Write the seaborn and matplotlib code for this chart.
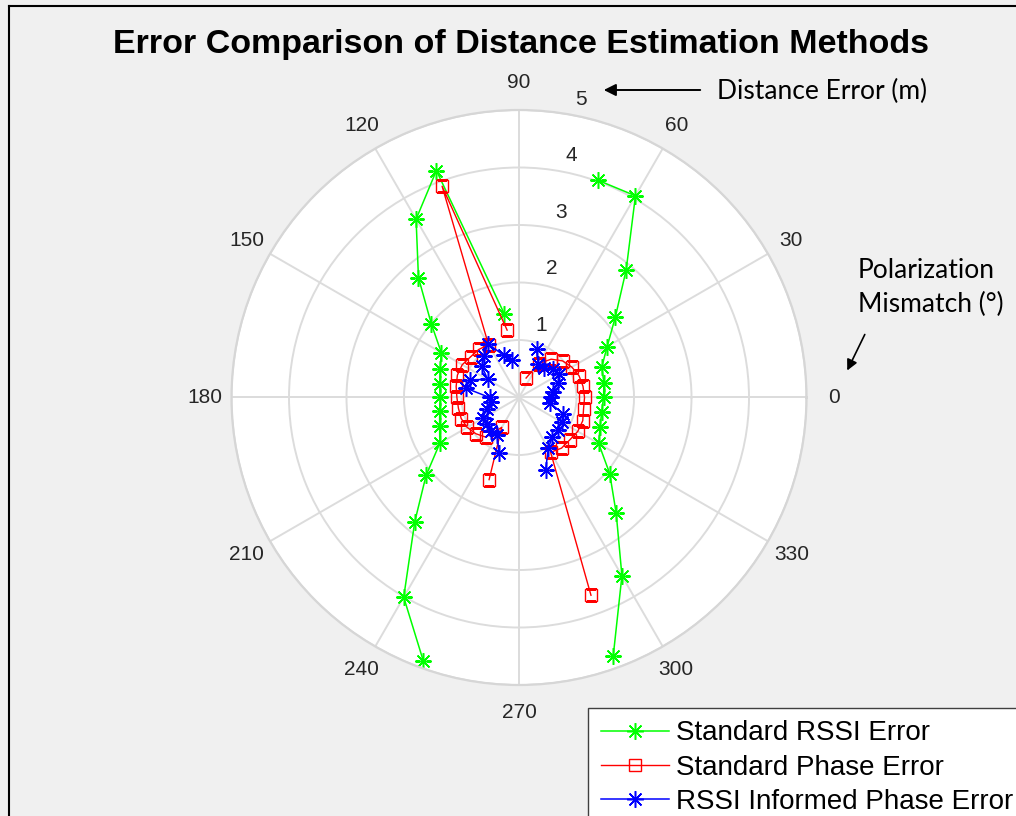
import numpy as np
import pandas as pd
import matplotlib
matplotlib.use("Agg")
import matplotlib.pyplot as plt
import seaborn as sns
from matplotlib.lines import Line2D
from matplotlib.transforms import ScaledTranslation

# ---------------- data ----------------
angles_left = [100, 110, 120, 130, 140, 150, 160, 170, 180, 190, 200, 210, 220, 230, 240, 250]
angles_right = [-70, -60, -50, -40, -30, -20, -10, 0, 10, 20, 30, 40, 50, 60, 70]

rssi_left = [1.48, 4.20, 3.58, 2.72, 1.99, 1.56, 1.46, 1.40, 1.37, 1.40, 1.47, 1.59, 2.11, 2.82, 4.01, 4.87]
rssi_right = [4.79, 3.58, 2.63, 2.06, 1.60, 1.50, 1.46, 1.47, 1.50, 1.53, 1.77, 2.19, 2.90, 4.05, 4.02]

phase_left = [1.19, 3.91, 1.06, 1.09, 1.10, 1.14, 1.14, 1.11, 1.08, 1.07, 1.07, 1.04, 0.98, 0.90, 0.60, 1.52]
phase_right = [3.66, 1.10, 1.15, 1.15, 1.18, 1.18, 1.14, 1.14, 1.13, 1.11, 1.06, 0.99, 0.87, 0.68, 0.36]

informed_left = [0.66, 0.78, 1.08, 0.95, 0.84, 0.63, 0.90, 0.94, 0.51, 0.50, 0.60, 0.73, 0.72, 0.76, 0.76, 1.02]
informed_right = [1.35, 1.02, 0.90, 0.88, 0.86, 0.82, 0.54, 0.55, 0.60, 0.73, 0.80, 0.77, 0.68, 0.67, 0.89]

series_names = ["Standard RSSI Error", "Standard Phase Error", "RSSI Informed Phase Error"]
theta_ticks = [0, 30, 60, 90, 120, 150, 180, 210, 240, 270, 300, 330]
r_ticks = [1, 2, 3, 4, 5]
title_text = "Error Comparison of Distance Estimation Methods"


def make_frame(left, right):
    d1 = pd.DataFrame({"theta": np.deg2rad(angles_left), "r": left, "seg": "left"})
    d2 = pd.DataFrame({"theta": np.deg2rad(angles_right), "r": right, "seg": "right"})
    return pd.concat([d1, d2], ignore_index=True)


frames = [make_frame(rssi_left, rssi_right),
          make_frame(phase_left, phase_right),
          make_frame(informed_left, informed_right)]

styles = [
    dict(color="#00ff00", marker=(8, 2, 0), markersize=12, markeredgecolor="#00ff00",
         markerfacecolor="none", markeredgewidth=1.1, linewidth=1.1),
    dict(color="#ff0000", marker="s", markersize=9, markeredgecolor="#ff0000",
         markerfacecolor="none", markeredgewidth=1.0, linewidth=1.0),
    dict(color="#0000ff", marker=(8, 2, 0), markersize=12, markeredgecolor="#0000ff",
         markerfacecolor="none", markeredgewidth=1.1, linewidth=1.1),
]

# ---------------- figure ----------------
W, H = 1016, 816
fig = plt.figure(figsize=(W / 100, H / 100), dpi=100, facecolor="#f0f0f0")

cx, cy, R = 519, 397.5, 287.5
ax = fig.add_axes([(cx - R) / W, (H - cy - R) / H, 2 * R / W, 2 * R / H], projection="polar")
ax.set_facecolor("white")

for df, st in zip(frames, styles):
    sns.lineplot(data=df, x="theta", y="r", units="seg", estimator=None, sort=False,
                 ax=ax, legend=False, **st)

ax.set_xlabel("")
ax.set_ylabel("")
ax.set_ylim(0, 5)
ax.set_yticks(r_ticks)
ax.set_yticklabels([])
ax.set_thetagrids(theta_ticks, labels=[str(t) for t in theta_ticks],
                  fontsize=15, color="#262626", family="Liberation Sans")
ax.tick_params(axis="x", pad=9)
ax.grid(True, color="#dcdcdc", linewidth=1.4)
ax.spines["polar"].set_color("#d6d6d6")
ax.spines["polar"].set_linewidth(1.6)

# radial tick labels (MATLAB style, near 80 degrees, slightly offset)
off = ScaledTranslation(9 / 72, 11 / 72, fig.dpi_scale_trans)
for rt in r_ticks:
    ax.text(np.deg2rad(80), rt, str(rt), transform=ax.transData + off,
            ha="center", va="center", fontsize=15, color="#262626", family="Liberation Sans")

# title
fig.text(521 / W, 1 - 45 / H, title_text, ha="center", va="center",
         fontsize=24.5, fontweight="bold", color="black", family="Liberation Sans")

# annotations
fig.text(717 / W, 1 - 91 / H, "Distance Error (m)", ha="left", va="center",
         fontsize=19, color="black", family="Lato")
ax.annotate("", xy=(601, H - 90), xycoords="figure pixels",
            xytext=(703, H - 90), textcoords="figure pixels",
            arrowprops=dict(arrowstyle="-|>", color="black", lw=1.4, mutation_scale=18))
fig.text(858 / W, 1 - 271 / H, "Polarization", ha="left", va="center",
         fontsize=19, color="black", family="Lato")
fig.text(858 / W, 1 - 304 / H, "Mismatch (°)", ha="left", va="center",
         fontsize=19, color="black", family="Lato")
ax.annotate("", xy=(846, H - 373), xycoords="figure pixels",
            xytext=(866, H - 332), textcoords="figure pixels",
            arrowprops=dict(arrowstyle="-|>", color="black", lw=1.2, mutation_scale=16))

# legend
handles = [Line2D([0], [0], **st) for st in styles]
leg = fig.legend(handles, series_names, loc="upper left",
                 bbox_to_anchor=(588 / W, 1 - 708 / H), bbox_transform=fig.transFigure,
                 frameon=True, fancybox=False, framealpha=1, edgecolor="#404040",
                 facecolor="white", borderaxespad=0, borderpad=0.45, handlelength=2.45,
                 handletextpad=0.27, labelspacing=0.3,
                 prop={"family": "Liberation Sans", "size": 20})
leg.get_frame().set_linewidth(1.0)

# outer border of the screenshot
fig.add_artist(Line2D([9 / W, 9 / W], [0, 1 - 6 / H], transform=fig.transFigure,
                      color="black", linewidth=1.5))
fig.add_artist(Line2D([9 / W, 1], [1 - 6 / H, 1 - 6 / H], transform=fig.transFigure,
                      color="black", linewidth=1.5))

fig.savefig("out.png", dpi=100, facecolor=fig.get_facecolor())
